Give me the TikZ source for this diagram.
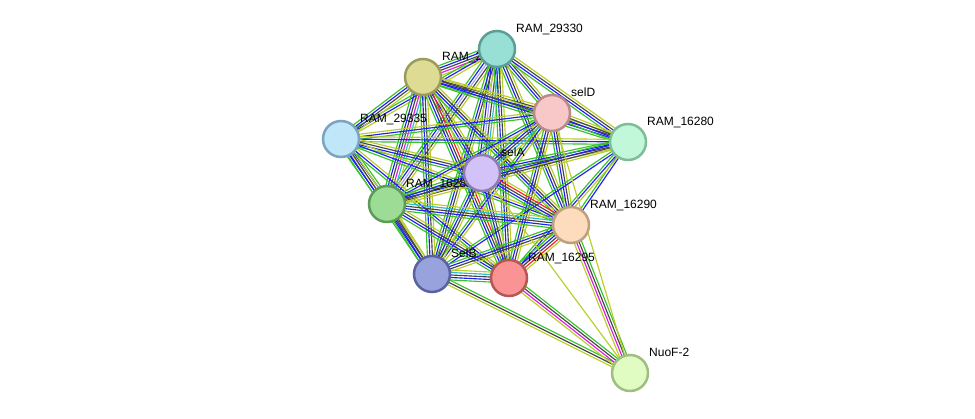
\documentclass[tikz,border=0pt]{standalone}
\usepackage{fontspec}
\setmainfont{Liberation Sans}
\usetikzlibrary{calc}
\definecolor{Eg}{RGB}{55,195,40}
\definecolor{Eb}{RGB}{30,30,245}
\definecolor{Ey}{RGB}{185,205,40}
\definecolor{Ek}{RGB}{70,70,70}
\definecolor{Ec}{RGB}{40,185,215}
\definecolor{Em}{RGB}{220,30,220}
\definecolor{Er}{RGB}{250,30,30}
\definecolor{El}{RGB}{165,165,245}
\tikzset{
 prot/.style={circle, minimum size=36pt, inner sep=0pt, line width=2.5pt},
 lab/.style={anchor=base west, inner sep=0pt, font=\fontsize{12pt}{12pt}\selectfont, text=black},
 edgeline/.style={line width=1.15pt}
}
\newcommand\bund[4]{%
 \foreach \cc [count=\ii] in {#4}{%
  \pgfmathsetmacro\off{(\ii-(#3+1)/2)*2.5}%
  \draw[edgeline, color=E\cc] ($(#1)!\off pt!90:(#2)$) -- ($(#2)!\off pt!-90:(#1)$);
 }}
\newcommand\lbl[3]{\node[lab] (l#1) at ($(#2)+(19,-17)$) {#3};}
\begin{document}
\begin{tikzpicture}[x=1pt,y=-1pt]
\useasboundingbox (0,0) rectangle (975,418);
\coordinate (A) at (497,49);
\coordinate (Y) at (423,77);
\coordinate (D) at (552,113);
\coordinate (F) at (628,142);
\coordinate (C) at (341,139);
\coordinate (S) at (482,173);
\coordinate (G) at (387,204);
\coordinate (P) at (571,225);
\coordinate (B) at (432,274);
\coordinate (R) at (509,278);
\coordinate (N) at (630,373);
% edges
\bund{A}{Y}{5}{g,b,k,m,y}
\bund{A}{D}{4}{g,b,k,y}
\bund{A}{F}{4}{g,b,k,y}
\bund{A}{C}{3}{g,b,y}
\bund{A}{S}{6}{g,b,l,k,c,y}
\bund{A}{G}{5}{g,b,l,k,y}
\bund{A}{P}{4}{g,b,k,y}
\bund{A}{B}{4}{g,b,k,y}
\bund{A}{R}{4}{g,b,k,y}
\bund{Y}{D}{4}{g,b,k,y}
\bund{Y}{F}{4}{g,b,k,y}
\bund{Y}{C}{4}{g,b,k,y}
\bund{Y}{S}{4}{g,b,k,y}
\bund{Y}{R}{5}{g,b,k,r,y}
\bund{Y}{G}{6}{g,b,k,m,c,y}
\bund{Y}{B}{4}{g,b,k,y}
\bund{Y}{P}{4}{g,b,k,y}
\bund{C}{D}{3}{g,b,y}
\bund{C}{F}{3}{g,b,y}
\bund{C}{S}{4}{g,b,k,y}
\bund{C}{G}{5}{g,b,y,b,g}
\bund{C}{P}{3}{g,b,y}
\bund{C}{B}{4}{g,b,k,y}
\bund{C}{R}{3}{g,b,y}
\bund{D}{F}{4}{g,b,k,y}
\bund{D}{S}{5}{g,b,k,c,y}
\bund{D}{G}{3}{g,b,y}
\bund{D}{P}{4}{g,b,k,y}
\bund{D}{B}{3}{g,b,y}
\bund{D}{R}{4}{g,b,k,y}
\bund{F}{S}{4}{g,b,k,y}
\bund{F}{G}{4}{g,b,k,y}
\bund{F}{P}{2}{g,b}
\bund{F}{B}{2}{g,b}
\bund{F}{R}{3}{g,b,y}
\bund{S}{G}{4}{g,b,k,y}
\bund{S}{P}{5}{g,b,k,r,y}
\bund{S}{B}{4}{g,b,k,y}
\bund{S}{R}{4}{g,b,k,y}
\bund{G}{P}{5}{g,b,k,c,y}
\bund{G}{B}{4}{g,b,k,y}
\bund{G}{R}{4}{g,b,k,y}
\bund{P}{B}{4}{g,b,k,y}
\bund{P}{R}{5}{g,b,k,r,y}
\bund{B}{R}{5}{g,b,k,c,y}
\bund{N}{B}{3}{g,k,y}
\bund{N}{R}{4}{g,k,m,y}
\bund{N}{P}{4}{g,k,m,y}
\bund{N}{S}{1}{y}
\bund{N}{D}{1}{y}
% labels
\lbl{A}{A}{RAM\_29330}
\lbl{Y}{Y}{RAM\_29325}
\lbl{D}{D}{selD}
\lbl{F}{F}{RAM\_16280}
\lbl{C}{C}{RAM\_29335}
\lbl{S}{S}{selA}
\lbl{G}{G}{RAM\_16285}
\lbl{P}{P}{RAM\_16290}
\lbl{B}{B}{SelB}
\lbl{R}{R}{RAM\_16295}
\lbl{N}{N}{NuoF-2}
% nodes
\node[prot, fill={rgb,255:red,152;green,224;blue,214}, draw={rgb,255:red,90;green,158;blue,150}] (nA) at (A) {};
\node[prot, fill={rgb,255:red,222;green,220;blue,148}, draw={rgb,255:red,156;green,156;blue,90}] (nY) at (Y) {};
\node[prot, fill={rgb,255:red,248;green,200;blue,200}, draw={rgb,255:red,184;green,138;blue,138}] (nD) at (D) {};
\node[prot, fill={rgb,255:red,194;green,248;blue,218}, draw={rgb,255:red,128;green,188;blue,152}] (nF) at (F) {};
\node[prot, fill={rgb,255:red,192;green,230;blue,250}, draw={rgb,255:red,122;green,164;blue,192}] (nC) at (C) {};
\node[prot, fill={rgb,255:red,210;green,194;blue,248}, draw={rgb,255:red,142;green,124;blue,176}] (nS) at (S) {};
\node[prot, fill={rgb,255:red,156;green,220;blue,148}, draw={rgb,255:red,92;green,156;blue,88}] (nG) at (G) {};
\node[prot, fill={rgb,255:red,252;green,220;blue,188}, draw={rgb,255:red,188;green,160;blue,128}] (nP) at (P) {};
\node[prot, fill={rgb,255:red,152;green,162;blue,220}, draw={rgb,255:red,90;green,98;blue,160}] (nB) at (B) {};
\node[prot, fill={rgb,255:red,250;green,148;blue,148}, draw={rgb,255:red,184;green,86;blue,86}] (nR) at (R) {};
\node[prot, fill={rgb,255:red,224;green,252;blue,194}, draw={rgb,255:red,160;green,190;blue,128}] (nN) at (N) {};
\end{tikzpicture}
\end{document}
